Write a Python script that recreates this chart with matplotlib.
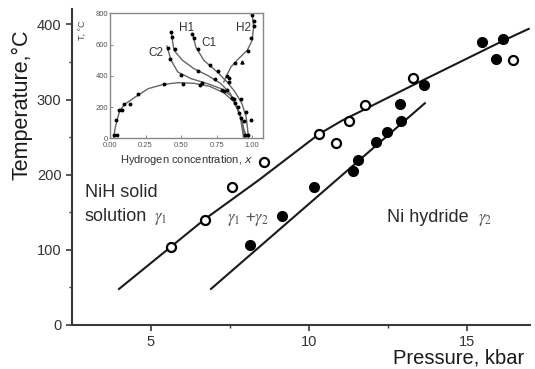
import numpy as np
import matplotlib
matplotlib.use("Agg")
import matplotlib.pyplot as plt

plt.rcParams['font.family'] = ['Liberation Sans', 'DejaVu Sans']

## datos del grafico principal
p_open = [5.63, 6.71, 7.56, 8.58, 10.32, 10.85, 11.27, 11.77, 13.29, 16.46]
t_open = [104, 140, 184, 217, 254, 242, 271, 293, 328, 352]

p_fill = [8.13, 9.15, 10.16, 11.39, 11.55, 12.12, 12.47, 12.91, 12.88, 13.64, 15.47, 16.14, 15.92]
t_fill = [106, 145, 183, 205, 220, 244, 257, 272, 294, 319, 376, 380, 354]

## lineas de ajuste
fit1_p = [3.99, 5.63, 6.71, 8.42, 10.32, 11.05, 11.77, 13.29, 16.14, 16.96]
fit1_t = [48, 104, 141, 193, 254, 272, 287, 319, 378, 394]
fit2_p = [6.9, 10.3, 13.67]
fit2_t = [48, 172, 295]

## datos del inset (diagrama T-x)
dome_x = [0.026, 0.035, 0.049, 0.069, 0.104, 0.174, 0.27, 0.375, 0.48, 0.59, 0.70, 0.80, 0.87, 0.912, 0.935, 0.955, 0.962]
dome_y = [0, 60, 115, 179, 218, 262, 318, 345, 356, 352, 333, 292, 235, 160, 80, 20, 0]
dome_px = [0.03, 0.05, 0.045, 0.06, 0.083, 0.10, 0.14, 0.20, 0.38, 0.51, 0.63, 0.80, 0.86, 0.90, 0.94, 0.95, 0.97]
dome_py = [20, 20, 115, 179, 179, 218, 218, 282, 350, 346, 340, 300, 255, 200, 110, 20, 20]

c1_x = [0.43, 0.45, 0.51, 0.59, 0.685, 0.78, 0.847, 0.89, 0.93, 0.945]
c1_y = [680, 563, 499, 446, 403, 350, 286, 200, 115, 0]
c1_px = [0.43, 0.435, 0.46, 0.62, 0.74, 0.82, 0.88, 0.92]
c1_py = [680, 650, 570, 432, 380, 312, 225, 130]

c2_x = [0.40, 0.43, 0.477, 0.57, 0.685, 0.78, 0.847, 0.89, 0.917, 0.94]
c2_y = [590, 499, 424, 382, 350, 318, 275, 211, 136, 0]
c2_px = [0.41, 0.42, 0.50, 0.65, 0.79, 0.87, 0.91]
c2_py = [575, 510, 405, 355, 312, 250, 160]

c3_x = [0.58, 0.604, 0.66, 0.755, 0.824, 0.88, 0.928, 0.958, 0.975]
c3_y = [670, 584, 499, 424, 360, 296, 222, 136, 0]
c3_px = [0.58, 0.59, 0.62, 0.70, 0.76, 0.84, 0.92, 0.96, 0.99]
c3_py = [670, 640, 570, 470, 430, 360, 250, 170, 120]

h2_x = [1.0, 1.01, 1.0, 0.965, 0.905, 0.85, 0.82, 0.80]
h2_y = [790, 712, 627, 563, 510, 456, 400, 360]
h2_px = [1.0, 1.01, 1.01, 0.995, 0.97, 0.88, 0.82, 0.84]
h2_py = [790, 750, 720, 640, 560, 480, 400, 385]
tri_x = [0.93]
tri_y = [488]


fig = plt.figure(figsize=(5.35, 3.69), dpi=100)
ax = fig.add_axes([72/535, 1-325/369, 458/535, 315.7/369])

ax.plot(fit1_p, fit1_t, color='#1a1a1a', lw=1.5)
ax.plot(fit2_p, fit2_t, color='#1a1a1a', lw=1.5)
ax.plot(p_open, t_open, 'o', ms=6.5, mfc='white', mec='black', mew=1.6)
ax.plot(p_fill, t_fill, 'o', ms=7, mfc='black', mec='black')

ax.set_xlim(2.5, 17)
ax.set_ylim(0, 420)
ax.set_xticks([5, 10, 15])
ax.set_xticks([7.5, 12.5], minor=True)
ax.set_yticks([0, 100, 200, 300, 400])
ax.set_yticks([50, 150, 250, 350], minor=True)
for s in ['top', 'right']:
    ax.spines[s].set_visible(False)
for s in ['left', 'bottom']:
    ax.spines[s].set_linewidth(1.5)
    ax.spines[s].set_color('#3a3a3a')
ax.tick_params(which='major', length=4, width=1.2, color='#3a3a3a', labelsize=10.5, labelcolor='#333333')
ax.tick_params(which='minor', length=2, width=1.0, color='#3a3a3a')

fig.text(22/535, 1-105/369, 'Temperature,°C', rotation=90, fontsize=15.5,
         ha='center', va='center', color='#1a1a1a')
fig.text(459/535, 1-358/369, 'Pressure, kbar', fontsize=14.5,
         ha='center', va='center', color='#1a1a1a')

ax.text(2.91, 176, 'NiH solid', fontsize=13, va='center', color='#2a2a2a')
ax.text(2.91, 144, 'solution', fontsize=13, va='center', color='#2a2a2a')
ax.text(5.1, 141, r'$\gamma_1$', fontsize=12, va='center', color='#555555', math_fontfamily='stix')
ax.text(7.4, 140, r'$\gamma_1$ +$\gamma_2$', fontsize=12, va='center', color='#555555', math_fontfamily='stix')
ax.text(12.47, 143, 'Ni hydride', fontsize=13, va='center', color='#2a2a2a')
ax.text(15.35, 140, r'$\gamma_2$', fontsize=12, va='center', color='#555555', math_fontfamily='stix')

## inset
ins = fig.add_axes([110/535, 1-138.3/369, 152.7/535, 125/369])
gc = '#666666'
for cx, cy in [(dome_x, dome_y), (c1_x, c1_y), (c2_x, c2_y), (c3_x, c3_y), (h2_x, h2_y)]:
    ins.plot(cx, cy, color=gc, lw=1.0)
for cx, cy in [(dome_px, dome_py), (c1_px, c1_py), (c2_px, c2_py), (c3_px, c3_py), (h2_px, h2_py)]:
    ins.plot(cx, cy, 'o', ms=1.8, color='black')
ins.plot(tri_x, tri_y, '^', ms=2.2, color='black')

ins.set_xlim(0.014, 1.074)
ins.set_ylim(0, 800)
ins.set_xticks([0, 0.25, 0.5, 0.75, 1.0])
ins.set_xticklabels(['0.00', '0.25', '0.50', '0.75', '1.00'])
ins.set_yticks([0, 200, 400, 600, 800])
ins.tick_params(direction='in', length=2, width=0.6, labelsize=5.5, labelcolor='#555555', color='#777777')
ins.tick_params(axis='x', pad=2.5)
ins.tick_params(axis='y', pad=1.5)
for s in ins.spines.values():
    s.set_color('#888888')
    s.set_linewidth(1.0)
ins.set_xlabel('Hydrogen concentration, $x$', fontsize=8, color='#333333', labelpad=3)
fig.text(82/535, 1-30/369, 'T, °C', rotation=90, fontsize=6.5, ha='center', va='center', color='#444444')

for lab, lx, ly in [('H1', 0.535, 704), ('C1', 0.694, 608), ('C2', 0.32, 544), ('H2', 0.94, 704)]:
    ins.text(lx, ly, lab, fontsize=8.5, ha='center', va='center', color='#333333')

plt.savefig('out.png', dpi=100)
